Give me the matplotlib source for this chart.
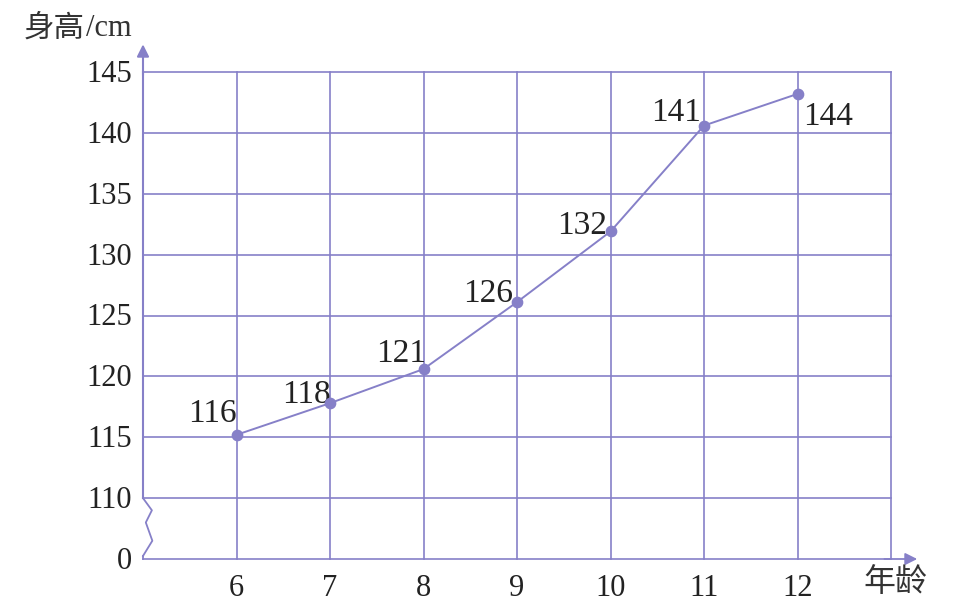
import matplotlib
matplotlib.use("Agg")
import matplotlib.pyplot as plt

# dados
idades = [6, 7, 8, 9, 10, 11, 12]
alturas = [115.2, 117.8, 120.6, 126.1, 131.9, 140.6, 143.2]
rotulos = ["116", "118", "121", "126", "132", "141", "144"]
ticks_y = ["0", "110", "115", "120", "125", "130", "135", "140", "145"]

roxo = "#8680c8"
serif = ["Liberation Serif", "DejaVu Serif"]
cjk = ["Noto Sans CJK SC", "DejaVu Sans"]


def pos_y(v):
    # eixo quebrado: 0 embaixo, depois 110..145 de 5 em 5
    return (v - 105) / 5.0


fig = plt.figure(figsize=(9.65, 6.08), dpi=100, facecolor="white")
ax = fig.add_axes([143 / 965, 49 / 608, 748 / 965, 487 / 608])
ax.set_xlim(5, 13)
ax.set_ylim(0, 8)
for s in ax.spines.values():
    s.set_visible(False)
ax.set_xticks([])
ax.set_yticks([])

# grade
for x in range(6, 14):
    ax.plot([x, x], [0, 8], color=roxo, lw=1.2, clip_on=False)
for y in range(1, 9):
    ax.plot([5, 13], [y, y], color=roxo, lw=1.2, clip_on=False)
ax.plot([5, 13], [0, 0], color=roxo, lw=1.2, clip_on=False)

# eixo y com quebra (zigue-zague entre 0 e 110)
ax.plot([5, 5], [1, 8], color=roxo, lw=1.5, clip_on=False)
zx = [5, 5.095, 5.03, 5.1, 5.0]
zy = [1, 0.8, 0.6, 0.3, 0.05]
ax.plot(zx, zy, color=roxo, lw=1.3, clip_on=False)
ax.plot([5, 5], [0.05, 0], color=roxo, lw=1.3, clip_on=False)

# setas dos eixos
ax.annotate("", xy=(5, 8.5), xytext=(5, 7.9),
            arrowprops=dict(arrowstyle="-|>", color=roxo, lw=1.5,
                            mutation_scale=18), annotation_clip=False)
ax.annotate("", xy=(13.31, 0), xytext=(12.9, 0),
            arrowprops=dict(arrowstyle="-|>", color=roxo, lw=1.3,
                            mutation_scale=18), annotation_clip=False)

# rótulos dos eixos
for i, t in enumerate(ticks_y):
    ax.text(4.88, i - 0.04, t, ha="right", va="center", fontsize=22,
            family=serif, color="#222222")
for x in idades:
    ax.text(x, -0.48, str(x), ha="center", va="center", fontsize=22,
            family=serif, color="#222222")

ax.text(3.72, 8.72, "身高", ha="left", va="center", fontsize=22,
        family=cjk, color="#333333")
ax.text(4.39, 8.72, "/cm", ha="left", va="center", fontsize=22,
        family=serif, color="#333333")
ax.text(13.05, -0.38, "年龄", ha="center", va="center", fontsize=23,
        family=cjk, color="#333333")

# linha e pontos
ys = [pos_y(v) for v in alturas]
ax.plot(idades, ys, color=roxo, lw=1.4, clip_on=False, zorder=3)
ax.scatter(idades, ys, s=55, color=roxo, zorder=4, clip_on=False)

deslocs = [(-24, 21), (-24, 8), (-22, 15), (-29, 8), (-28, 6), (-28, 13), (31, -23)]
for x, y, r, d in zip(idades, ys, rotulos, deslocs):
    ax.annotate(r, (x, y), xytext=d, textcoords="offset pixels",
                ha="center", va="center", fontsize=24, family=serif,
                color="#222222")

fig.savefig("out.png", dpi=100, facecolor="white")
